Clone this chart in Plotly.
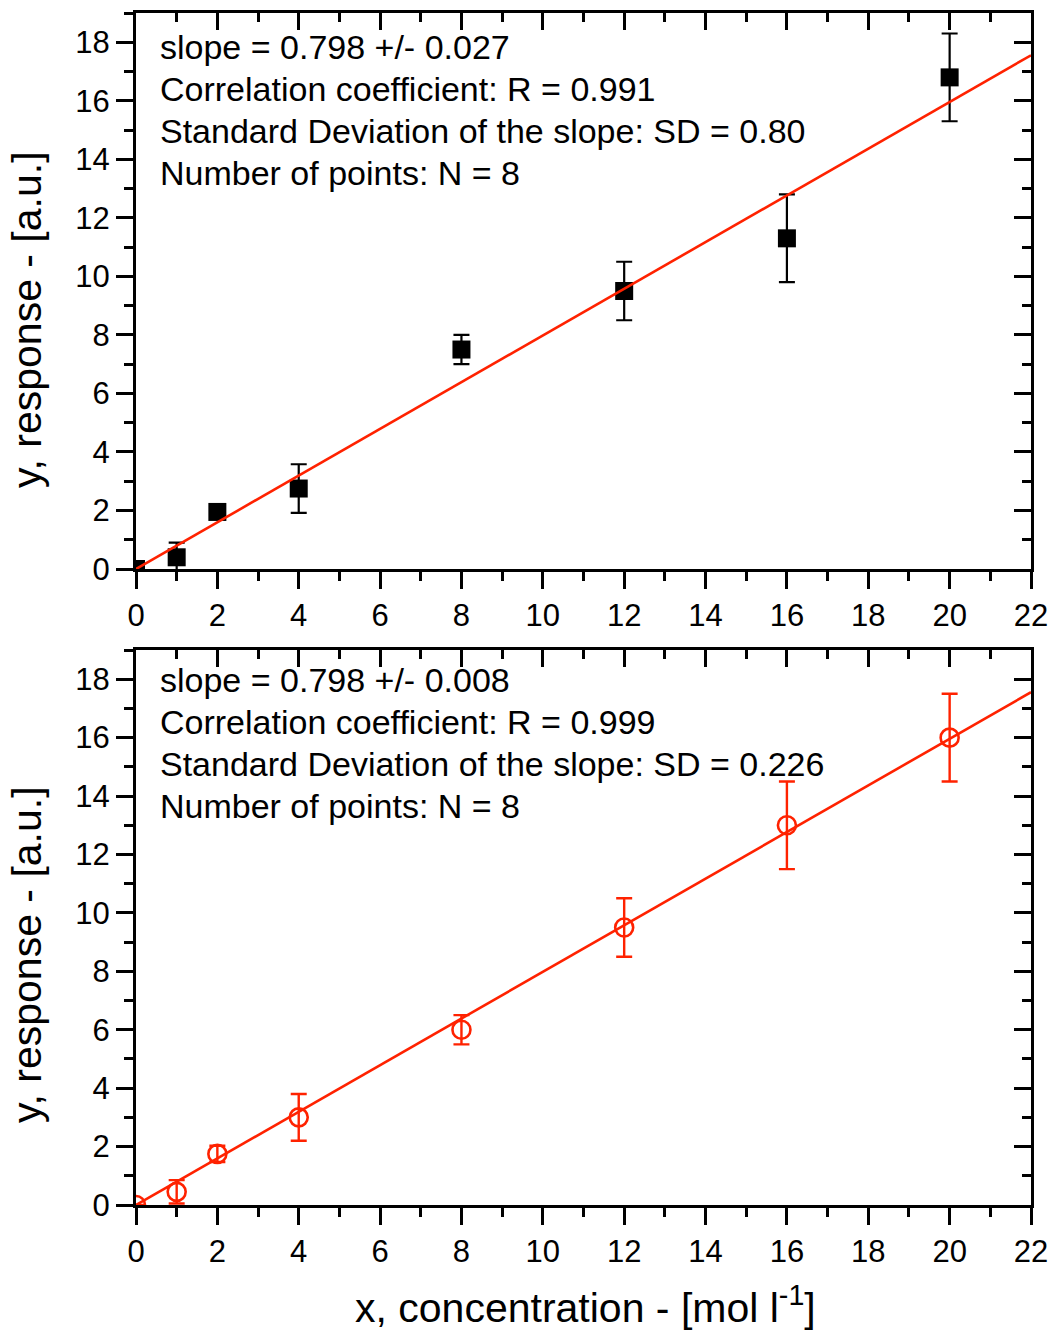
import plotly.graph_objects as go

# ---------------- data ----------------
x_conc = [0, 1, 2, 4, 8, 12, 16, 20]

y_top = [0.0, 0.4, 1.95, 2.75, 7.5, 9.5, 11.3, 16.8]
err_top = [0.0, 0.5, 0.15, 0.83, 0.5, 1.0, 1.5, 1.5]

y_bottom = [0.0, 0.45, 1.75, 3.0, 6.0, 9.5, 13.0, 16.0]
err_bottom = [0.0, 0.4, 0.28, 0.8, 0.5, 1.0, 1.5, 1.5]

fit_slope_top = 0.798
fit_slope_bottom = 0.798
fit_intercept = 0.0
fit_x = [0, 22]

text_top = [
    "slope = 0.798 +/- 0.027",
    "Correlation coefficient: R = 0.991",
    "Standard Deviation of the slope: SD = 0.80",
    "Number of points: N = 8",
]
text_bottom = [
    "slope = 0.798 +/- 0.008",
    "Correlation coefficient: R = 0.999",
    "Standard Deviation of the slope: SD = 0.226",
    "Number of points: N = 8",
]

x_title = "x, concentration - [mol l<sup>-1</sup>]"
y_title = "y, response - [a.u.]"

x_range = [0, 22]
y_range = [0, 19]

# ---------------- style ----------------
RED = "rgb(255,34,0)"
FONT = "Arial, Liberation Sans, sans-serif"
W, H = 1059, 1331
ML, MR, MT, MB = 136, 28, 13, 126
plot_h = H - MT - MB
top_dom = [(plot_h - 556) / plot_h, 1.0]
bot_dom = [0.0, 555 / plot_h]

fig = go.Figure()

# top panel data
fig.add_trace(go.Scatter(
    x=x_conc, y=y_top, mode="markers",
    marker=dict(symbol="square", size=18, color="black"),
    error_y=dict(type="data", array=err_top, visible=True, color="black",
                 thickness=2.2, width=8),
    xaxis="x", yaxis="y", showlegend=False))
fig.add_trace(go.Scatter(
    x=fit_x, y=[fit_slope_top * v + fit_intercept for v in fit_x], mode="lines",
    line=dict(color=RED, width=2.6), xaxis="x", yaxis="y", showlegend=False))

# bottom panel data
fig.add_trace(go.Scatter(
    x=x_conc, y=y_bottom, mode="markers",
    marker=dict(symbol="circle-open", size=18, color=RED, line=dict(width=2.6, color=RED)),
    error_y=dict(type="data", array=err_bottom, visible=True, color=RED,
                 thickness=2.4, width=8),
    xaxis="x2", yaxis="y2", showlegend=False))
fig.add_trace(go.Scatter(
    x=fit_x, y=[fit_slope_bottom * v + fit_intercept for v in fit_x], mode="lines",
    line=dict(color=RED, width=2.6), xaxis="x2", yaxis="y2", showlegend=False))

# dummy traces so mirror axes are drawn
for xa, ya in [("x3", "y"), ("x", "y3"), ("x4", "y2"), ("x2", "y4")]:
    fig.add_trace(go.Scatter(x=[None], y=[None], xaxis=xa, yaxis=ya,
                             showlegend=False, hoverinfo="skip"))

tickfont = dict(family=FONT, size=31, color="black")


def main_x(anchor, labels=True):
    return dict(range=x_range, domain=[0, 1], anchor=anchor, showgrid=False, zeroline=False,
                showline=True, linecolor="black", linewidth=3,
                ticks="outside", ticklen=17, tickwidth=3, tickcolor="black",
                tick0=0, dtick=2, tickfont=tickfont, showticklabels=labels,
                minor=dict(ticks="outside", ticklen=9, tickwidth=3, tickcolor="black", dtick=1, tick0=0),
                fixedrange=True)


def main_y(anchor, dom):
    return dict(range=y_range, domain=dom, anchor=anchor, showgrid=False, zeroline=False,
                showline=True, linecolor="black", linewidth=3,
                ticks="outside", ticklen=17, tickwidth=3, tickcolor="black",
                tick0=0, dtick=2, tickfont=tickfont,
                minor=dict(ticks="outside", ticklen=9, tickwidth=3, tickcolor="black", dtick=1, tick0=0),
                fixedrange=True)


def mirror_x(over, anchor):
    return dict(range=x_range, overlaying=over, anchor=anchor, side="top",
                showgrid=False, zeroline=False, showline=True, linecolor="black", linewidth=3,
                ticks="inside", ticklen=17, tickwidth=3, tickcolor="black",
                tick0=0, dtick=2, showticklabels=False,
                minor=dict(ticks="inside", ticklen=9, tickwidth=3, tickcolor="black", dtick=1, tick0=0),
                fixedrange=True)


def mirror_y(over, anchor):
    return dict(range=y_range, overlaying=over, anchor=anchor, side="right",
                showgrid=False, zeroline=False, showline=True, linecolor="black", linewidth=3,
                ticks="inside", ticklen=17, tickwidth=3, tickcolor="black",
                tick0=0, dtick=2, showticklabels=False,
                minor=dict(ticks="inside", ticklen=9, tickwidth=3, tickcolor="black", dtick=1, tick0=0),
                fixedrange=True)


fig.update_layout(
    width=W, height=H,
    margin=dict(l=ML, r=MR, t=MT, b=MB, pad=0),
    paper_bgcolor="white", plot_bgcolor="white",
    font=dict(family=FONT, color="black"),
    showlegend=False,
    xaxis=main_x("y"),
    yaxis=main_y("x", top_dom),
    xaxis2=main_x("y2"),
    yaxis2=main_y("x2", bot_dom),
    xaxis3=mirror_x("x", "y"),
    yaxis3=mirror_y("y", "x"),
    xaxis4=mirror_x("x2", "y2"),
    yaxis4=mirror_y("y2", "x2"),
)

annfont = dict(family=FONT, size=34, color="black")
top_pos = [0.9388, 0.8633, 0.7878, 0.7122]
bot_pos = [0.9459, 0.8703, 0.7946, 0.7189]
for t, p in zip(text_top, top_pos):
    fig.add_annotation(text=t, xref="x domain", yref="y domain", x=0.0246, y=p,
                       xanchor="left", yanchor="middle", showarrow=False, font=annfont)
for t, p in zip(text_bottom, bot_pos):
    fig.add_annotation(text=t, xref="x2 domain", yref="y2 domain", x=0.0246, y=p,
                       xanchor="left", yanchor="middle", showarrow=False, font=annfont)

titlefont = dict(family=FONT, size=41, color="black")
fig.add_annotation(text=y_title, xref="paper", yref="paper", x=-0.1218, y=0.7433,
                   xanchor="center", yanchor="middle", textangle=-90, showarrow=False, font=titlefont)
fig.add_annotation(text=y_title, xref="paper", yref="paper", x=-0.1218, y=0.2106,
                   xanchor="center", yanchor="middle", textangle=-90, showarrow=False, font=titlefont)
fig.add_annotation(text=x_title, xref="paper", yref="paper", x=0.5017, y=-0.0835,
                   xanchor="center", yanchor="middle", showarrow=False, font=titlefont)

fig.write_html("out.html",
               config={"displayModeBar": False},
               post_script="document.body.style.margin='0px';document.body.style.overflow='hidden';")
